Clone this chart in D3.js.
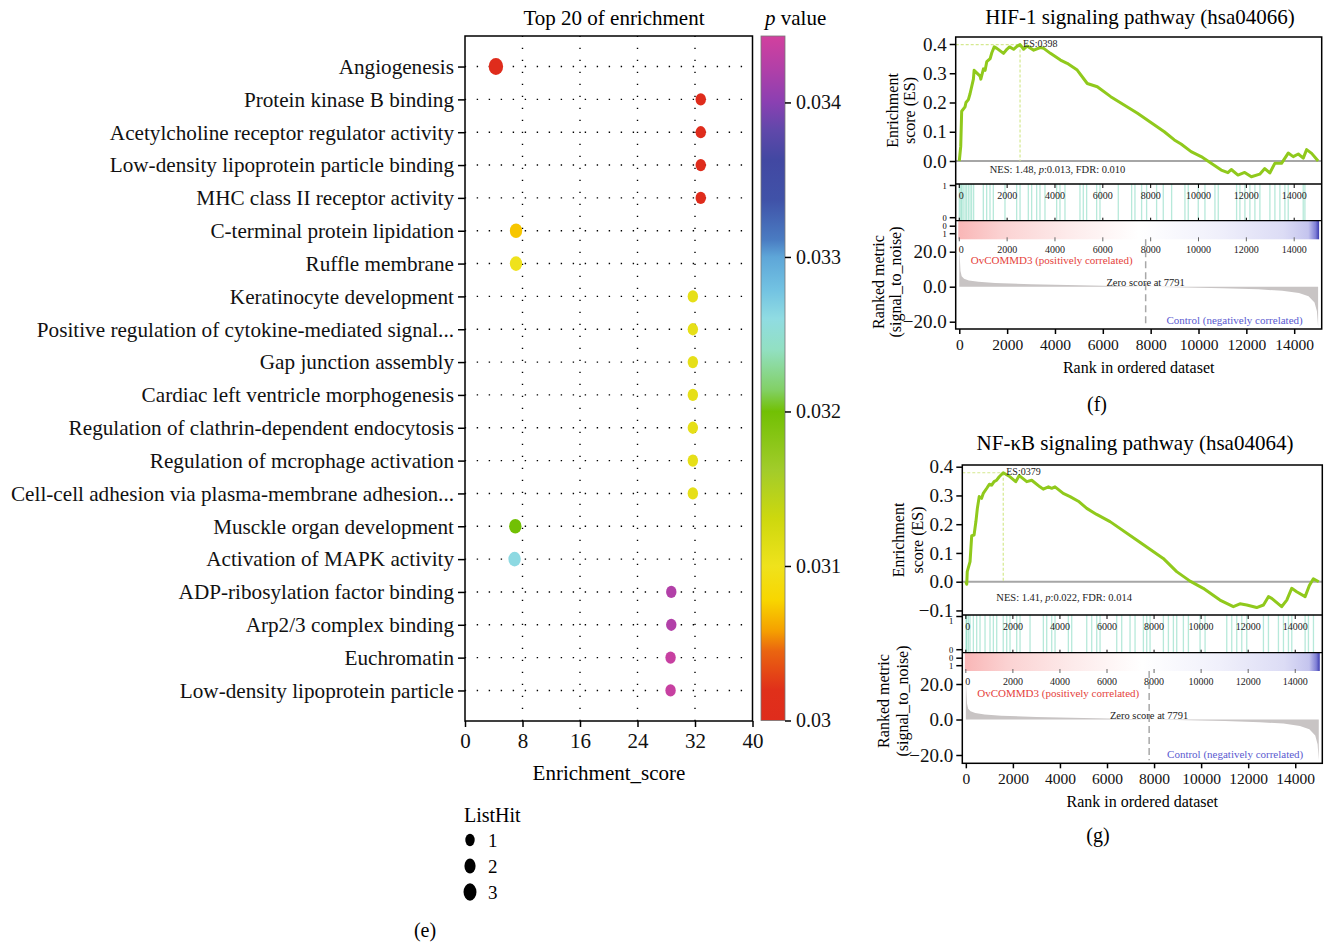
<!DOCTYPE html>
<html lang="en">
<head>
<meta charset="UTF-8" />
<title>Top 20 enrichment and GSEA</title>
<script src="https://d3js.org/d3.v7.min.js"></script>
<style>
  body { margin: 0; background: #fff; }
  svg { display: block; background: #fff; }
  .frame { fill: none; stroke: #000; stroke-width: 1.5; }
  .grid { stroke: #000; stroke-width: 1.4; stroke-dasharray: 1.4 10.6; stroke-dashoffset: 0.3; }
</style>
</head>
<body>
<svg width="1330" height="943"></svg>
<script>
const FONT = '"Liberation Serif", "Times New Roman", serif';

// ---------- (e) top 20 of enrichment ----------
const terms = [
  "Angiogenesis",
  "Protein kinase B binding",
  "Acetylcholine receptor regulator activity",
  "Low-density lipoprotein particle binding",
  "MHC class II receptor activity",
  "C-terminal protein lipidation",
  "Ruffle membrane",
  "Keratinocyte development",
  "Positive regulation of cytokine-mediated signal...",
  "Gap junction assembly",
  "Cardiac left ventricle morphogenesis",
  "Regulation of clathrin-dependent endocytosis",
  "Regulation of mcrophage activation",
  "Cell-cell adhesion via plasma-membrane adhesion...",
  "Musckle organ development",
  "Activation of MAPK activity",
  "ADP-ribosylation factor binding",
  "Arp2/3 complex binding",
  "Euchromatin",
  "Low-density lipoprotein particle"
];
const enrichScore = [4.3, 32.8, 32.8, 32.8, 32.8, 7.1, 7.1, 31.7, 31.7, 31.7,
                     31.7, 31.7, 31.7, 31.7, 7.0, 6.9, 28.7, 28.7, 28.6, 28.6];
const pValue = [0.0300, 0.0300, 0.0300, 0.0300, 0.0300, 0.03072, 0.0310, 0.03108, 0.03108, 0.03108,
                0.03108, 0.03108, 0.03108, 0.03108, 0.0320, 0.03262, 0.03422, 0.03422, 0.03436, 0.03436];
const listHit = [3, 1, 1, 1, 1, 2, 2, 1, 1, 1, 1, 1, 1, 1, 2, 2, 1, 1, 1, 1];
const xTicks = [0, 8, 16, 24, 32, 40];
const pTicks = [0.03, 0.031, 0.032, 0.033, 0.034];
const pRange = [0.03, 0.03443];
const pStops = [
  [0.03, "#df2c1c"], [0.0302, "#e0301a"], [0.03045, "#ea6510"], [0.03058, "#f5a000"],
  [0.03078, "#f8d600"], [0.031, "#efe21c"], [0.03131, "#cdd80e"], [0.03162, "#a2cc2a"],
  [0.032, "#72c004"], [0.03214, "#82d066"], [0.0324, "#92e0c2"], [0.0326, "#90dce2"],
  [0.03279, "#72c2e2"], [0.033, "#5ea6d8"], [0.03311, "#4a7cc2"], [0.03337, "#4052a8"],
  [0.03363, "#4248a2"], [0.03382, "#6048aa"], [0.034, "#8a40b2"], [0.03421, "#b040a8"],
  [0.03443, "#d2409e"]
];
const legendHits = [1, 2, 3];

// ---------- (f)/(g) GSEA ----------
const rankTicks = [0, 2000, 4000, 6000, 8000, 10000, 12000, 14000];
const metricTicks = [-20, 0, 20];
const nGenes = 15000;
const zeroCross = 7791;
const rankedMetric = [
  [0, 21], [20, 17], [50, 9], [100, 6], [200, 4.6], [400, 3.6], [800, 2.8], [1500, 2.1],
  [3000, 1.4], [5000, 0.8], [6500, 0.4], [7791, 0], [9000, -0.3], [11000, -0.9],
  [12500, -1.5], [13500, -2.3], [14200, -3.6], [14600, -5.5], [14850, -9], [14950, -14], [15000, -23]
];
const rankGradient = [
  [0, "#f9b6b6"], [0.12, "#fbd2d2"], [0.3, "#fdeaea"], [0.5, "#ffffff"], [0.72, "#f0f0fb"],
  [0.9, "#dcdcf5"], [0.97, "#c4c4ee"], [0.99, "#8080d6"], [1, "#3c3cb0"]
];

const hifCurve = [
  [0, 0], [60, 0.05], [100, 0.17], [240, 0.185], [280, 0.2], [380, 0.21], [450, 0.23], [590, 0.28],
  [620, 0.31], [870, 0.29], [900, 0.28], [1010, 0.315], [1080, 0.31], [1150, 0.34], [1290, 0.35],
  [1360, 0.37], [1460, 0.39], [1570, 0.385], [1850, 0.368], [1990, 0.382], [2100, 0.39],
  [2270, 0.382], [2410, 0.392], [2540, 0.398], [2690, 0.382], [2830, 0.393], [3110, 0.379],
  [3390, 0.388], [3530, 0.385], [3810, 0.368], [4230, 0.345], [4510, 0.334], [4930, 0.311],
  [5350, 0.265], [5770, 0.254], [6330, 0.22], [7450, 0.163], [8570, 0.1], [8990, 0.072],
  [9270, 0.058], [9690, 0.032], [10110, 0.015], [10390, 0.0], [10950, -0.031], [11230, -0.04],
  [11370, -0.029], [11650, -0.048], [11930, -0.039], [12210, -0.054], [12560, -0.045],
  [12770, -0.026], [12980, -0.041], [13190, -0.008], [13470, -0.008], [13750, 0.027],
  [13960, 0.015], [14170, 0.024], [14380, 0.01], [14520, 0.039], [14730, 0.026], [15000, 0]
];
const hifHits = [
  2, 60, 100, 160, 239, 300, 378, 450, 517, 600, 1005, 1144, 1284, 1423, 1910, 2398, 2540,
  2886, 3025, 3234, 3373, 3582, 4070, 4209, 4418, 5045, 5184, 5323, 5741, 5881, 6647, 7204,
  7343, 7622, 7831, 8249, 8527, 8876, 9433, 9572, 9990, 10269, 10687, 10826, 11592, 11731,
  11940, 12149, 12358, 12567, 12985, 13194, 13403, 13612, 13751, 14378, 14448
];
const hifPeak = [2540, 0.398];

const nfkbCurve = [
  [0, 0], [40, -0.009], [60, 0.035], [180, 0.07], [250, 0.16], [350, 0.162], [430, 0.21],
  [490, 0.255], [570, 0.296], [670, 0.29], [740, 0.307], [890, 0.325], [1000, 0.339],
  [1100, 0.336], [1200, 0.348], [1310, 0.353], [1420, 0.365], [1590, 0.379], [1880, 0.365],
  [2120, 0.348], [2270, 0.369], [2590, 0.348], [2800, 0.353], [3150, 0.33], [3290, 0.322],
  [3510, 0.33], [3650, 0.325], [3790, 0.33], [4140, 0.307], [4430, 0.296], [4780, 0.28],
  [5140, 0.255], [5560, 0.234], [6130, 0.209], [7260, 0.145], [8390, 0.081], [8960, 0.035],
  [9530, 0.002], [10090, -0.023], [10800, -0.064], [11370, -0.087], [11650, -0.077],
  [11940, -0.081], [12360, -0.09], [12650, -0.081], [12860, -0.052], [13000, -0.058],
  [13420, -0.087], [13640, -0.064], [13850, -0.023], [14060, -0.035], [14420, -0.052],
  [14600, -0.013], [14770, 0.01], [15000, 0]
];
const nfkbHits = [
  10, 36, 107, 178, 320, 461, 603, 816, 1028, 1170, 1312, 1590, 1737, 1878, 2162, 2304, 2729,
  3295, 3437, 3650, 3791, 4358, 4500, 5138, 5350, 5563, 5704, 6413, 6625, 6979, 7192, 7546,
  7688, 7829, 8396, 8609, 8821, 8963, 9246, 9459, 9955, 10168, 11089, 11301, 11514, 11727,
  11939, 12648, 12861, 13286, 13499, 13711, 13853, 14420, 14561, 14774
];
const nfkbPeak = [1590, 0.379];

const svg = d3.select("svg").attr("font-family", FONT);
const defs = svg.append("defs");

// ================= panel (e) =================
const x = d3.scaleLinear().domain([0, 40]).range([465, 752.5]);
const y = d3.scalePoint().domain(terms).range([36, 721]).padding(0.93);
const pColor = d3.scaleLinear().domain(pStops.map(d => d[0])).range(pStops.map(d => d[1])).clamp(true);
const rx = d3.scaleLinear().domain([1, 3]).range([5.2, 7.2]);

const gE = svg.append("g");

gE.selectAll(".hgrid").data(terms).enter().append("line")
  .attr("class", "grid")
  .attr("x1", x(0)).attr("x2", x(40))
  .attr("y1", d => y(d)).attr("y2", d => y(d));
gE.selectAll(".vgrid").data(xTicks.slice(1, -1)).enter().append("line")
  .attr("class", "grid")
  .attr("x1", d => x(d)).attr("x2", d => x(d))
  .attr("y1", 36).attr("y2", 721);

gE.selectAll(".dot").data(terms).enter().append("ellipse")
  .attr("cx", (d, i) => x(enrichScore[i]))
  .attr("cy", d => y(d))
  .attr("rx", (d, i) => rx(listHit[i]))
  .attr("ry", (d, i) => rx(listHit[i]) * 1.18)
  .attr("fill", (d, i) => pColor(pValue[i]));

gE.append("rect").attr("class", "frame")
  .attr("x", x(0)).attr("y", 36)
  .attr("width", x(40) - x(0)).attr("height", 721 - 36);

function styleAxis(g, size) {
  g.attr("font-family", FONT).attr("font-size", size);
  g.select(".domain").remove();
  g.selectAll(".tick line").attr("stroke-width", 1.5);
  g.selectAll(".tick text").attr("fill", "#111");
}

gE.append("g").attr("transform", "translate(0,721)")
  .call(d3.axisBottom(x).tickValues(xTicks).tickSize(6).tickPadding(6))
  .call(g => styleAxis(g, 21));
gE.append("g").attr("transform", `translate(${x(0)},0)`)
  .call(d3.axisLeft(y).tickSize(7).tickPadding(4))
  .call(g => styleAxis(g, 21.2));

gE.append("text").attr("x", 614).attr("y", 25).attr("text-anchor", "middle")
  .attr("font-size", 21).text("Top 20 of enrichment");
gE.append("text").attr("x", 609).attr("y", 780).attr("text-anchor", "middle")
  .attr("font-size", 21).text("Enrichment_score");

// colour bar
const cbY = d3.scaleLinear().domain(pRange).range([720.5, 36]);
const grad = defs.append("linearGradient").attr("id", "pgrad")
  .attr("x1", 0).attr("y1", 1).attr("x2", 0).attr("y2", 0);
grad.selectAll("stop").data(pStops).enter().append("stop")
  .attr("offset", d => (d[0] - pRange[0]) / (pRange[1] - pRange[0]))
  .attr("stop-color", d => d[1]);
gE.append("rect").attr("x", 761).attr("y", cbY(pRange[1]))
  .attr("width", 24).attr("height", cbY(pRange[0]) - cbY(pRange[1]))
  .attr("fill", "url(#pgrad)").attr("stroke", "#777").attr("stroke-width", 0.8);
gE.append("g").attr("transform", "translate(785,0)")
  .call(d3.axisRight(cbY).tickValues(pTicks).tickSize(6).tickPadding(5).tickFormat(d => String(+d.toFixed(3))))
  .call(g => styleAxis(g, 20));
const pv = gE.append("text").attr("x", 765).attr("y", 25).attr("font-size", 21);
pv.append("tspan").attr("font-style", "italic").text("p");
pv.append("tspan").text(" value");

// size legend
gE.append("text").attr("x", 464).attr("y", 822).attr("font-size", 20).text("ListHit");
const lg = gE.selectAll(".lg").data(legendHits).enter().append("g")
  .attr("transform", (d, i) => `translate(470,${840 + i * 26})`);
lg.append("ellipse").attr("rx", d => rx(d) * 0.9).attr("ry", d => rx(d) * 1.2).attr("fill", "#000");
lg.append("text").attr("x", 18).attr("y", 7).attr("font-size", 19).text(d => d);

svg.append("text").attr("x", 425).attr("y", 937).attr("text-anchor", "middle")
  .attr("font-size", 20).text("(e)");

// ================= GSEA panels =================
function drawGsea(cfg) {
  const g = svg.append("g");
  const xr = d3.scaleLinear().domain([-150, 15150]).range([cfg.left, cfg.right]);
  const yEs = d3.scaleLinear().domain([0, 0.4]).range([cfg.es0, cfg.es04]);
  const yMet = d3.scaleLinear().domain([-20, 20]).range([cfg.metM20, cfg.met20]);

  g.append("text").attr("x", cfg.titleX).attr("y", cfg.titleY).attr("text-anchor", "middle")
    .attr("font-size", 21).text(cfg.title);

  // hits
  g.selectAll(".hit").data(cfg.hits).enter().append("line")
    .attr("x1", d => xr(d)).attr("x2", d => xr(d))
    .attr("y1", cfg.hitTop).attr("y2", cfg.gradTop)
    .attr("stroke", "#6fd3b6").attr("stroke-opacity", 0.5).attr("stroke-width", 1.3);

  // colour ramp of ranked list
  const gid = "rg" + cfg.id;
  const lgR = defs.append("linearGradient").attr("id", gid);
  lgR.selectAll("stop").data(rankGradient).enter().append("stop")
    .attr("offset", d => d[0]).attr("stop-color", d => d[1]);
  g.append("rect").attr("x", xr(0) - 1).attr("y", cfg.gradTop)
    .attr("width", xr(nGenes) - xr(0) + 2).attr("height", cfg.gradBottom - cfg.gradTop)
    .attr("fill", `url(#${gid})`);

  // ranked metric
  const area = d3.area().x(d => xr(d[0])).y0(yMet(0)).y1(d => yMet(d[1]));
  g.append("path").datum(rankedMetric).attr("d", area).attr("fill", "#c8c4c4");
  g.append("line").attr("x1", xr(zeroCross)).attr("x2", xr(zeroCross))
    .attr("y1", cfg.gradBottom).attr("y2", cfg.bottom - 3)
    .attr("stroke", "#a8a8a8").attr("stroke-width", 1.5).attr("stroke-dasharray", "7 4");

  // ES
  g.append("line").attr("x1", cfg.left).attr("x2", cfg.right)
    .attr("y1", yEs(0)).attr("y2", yEs(0)).attr("stroke", "#a6a6a6").attr("stroke-width", 2);
  g.append("line").attr("x1", cfg.left).attr("x2", xr(cfg.peak[0]))
    .attr("y1", yEs(cfg.peak[1])).attr("y2", yEs(cfg.peak[1]))
    .attr("stroke", "#d5e98f").attr("stroke-width", 1.2).attr("stroke-dasharray", "3 2");
  g.append("line").attr("x1", xr(cfg.peak[0])).attr("x2", xr(cfg.peak[0]))
    .attr("y1", yEs(cfg.peak[1])).attr("y2", yEs(0))
    .attr("stroke", "#d5e98f").attr("stroke-width", 1.2).attr("stroke-dasharray", "3 2");
  g.append("path").datum(cfg.curve)
    .attr("d", d3.line().x(d => xr(d[0])).y(d => yEs(d[1])))
    .attr("fill", "none").attr("stroke", "#90c91c").attr("stroke-width", 3)
    .attr("stroke-linejoin", "round");

  g.append("text").attr("x", xr(cfg.peak[0]) + 3).attr("y", yEs(cfg.peak[1]) + 2.5)
    .attr("font-size", 10).attr("fill", "#222").text(cfg.esLabel);
  const nes = g.append("text").attr("x", cfg.left + 34).attr("y", cfg.nesY)
    .attr("font-size", 10.5).attr("fill", "#222");
  nes.append("tspan").text(`NES: ${cfg.nes}, `);
  nes.append("tspan").attr("font-style", "italic").text("p");
  nes.append("tspan").text(`:${cfg.p}, FDR: ${cfg.fdr}`);

  g.append("text").attr("x", cfg.left + 15).attr("y", yMet(20) + 12.5)
    .attr("font-size", 11).attr("fill", "#e5423c").text("OvCOMMD3 (positively correlated)");
  g.append("text").attr("x", xr(zeroCross)).attr("y", yMet(0) - 0.5).attr("text-anchor", "middle")
    .attr("font-size", 10.5).attr("fill", "#222").text(`Zero score at ${zeroCross}`);
  g.append("text").attr("x", cfg.right - 19).attr("y", yMet(-20) + 2.5).attr("text-anchor", "end")
    .attr("font-size", 11).attr("fill", "#5a5ad0").text("Control (negatively correlated)");

  // frame and separators
  g.append("rect").attr("class", "frame").attr("x", cfg.left).attr("y", cfg.esTop)
    .attr("width", cfg.right - cfg.left).attr("height", cfg.bottom - cfg.esTop);
  [cfg.hitTop, cfg.gradTop].forEach(v => g.append("line")
    .attr("x1", cfg.left).attr("x2", cfg.right).attr("y1", v).attr("y2", v)
    .attr("stroke", "#000").attr("stroke-width", 1.3));

  // inner rank ticks (hits panel and ramp)
  const inner = g.append("g").attr("font-size", 10).attr("fill", "#222");
  rankTicks.forEach(t => {
    inner.append("line").attr("x1", xr(t)).attr("x2", xr(t))
      .attr("y1", cfg.hitTop).attr("y2", cfg.hitTop + 4).attr("stroke", "#000");
    inner.append("line").attr("x1", xr(t)).attr("x2", xr(t))
      .attr("y1", cfg.gradTop - 3).attr("y2", cfg.gradTop).attr("stroke", "#000");
    inner.append("line").attr("x1", xr(t)).attr("x2", xr(t))
      .attr("y1", cfg.gradBottom - 2).attr("y2", cfg.gradBottom + 2).attr("stroke", "#666");
    inner.append("text").attr("x", t === 0 ? xr(t) + 2 : xr(t)).attr("y", cfg.hitTop + 14.5)
      .attr("text-anchor", "middle").text(t);
    inner.append("text").attr("x", t === 0 ? xr(t) + 2 : xr(t)).attr("y", cfg.gradBottom + 14)
      .attr("text-anchor", "middle").text(t);
  });

  // left axes
  g.append("g").attr("transform", `translate(${cfg.left},0)`)
    .call(d3.axisLeft(yEs).tickValues(cfg.esTicks).tickSize(6).tickPadding(3).tickFormat(d3.format(".1f")))
    .call(a => styleAxis(a, 19));
  g.append("g").attr("transform", `translate(${cfg.left},0)`)
    .call(d3.axisLeft(yMet).tickValues(metricTicks).tickSize(6).tickPadding(3).tickFormat(d3.format(".1f")))
    .call(a => styleAxis(a, 19));
  const small = [[cfg.hitTop + 1.5, "1", cfg.oneShift], [cfg.gradTop - 3, "0", 0],
                 [cfg.gradTop + 5.5, "0", 0], [cfg.gradTop + 13, "1", 0]];
  small.forEach(([yy, t, sh]) => {
    g.append("line").attr("x1", cfg.left - 6).attr("x2", cfg.left).attr("y1", yy).attr("y2", yy)
      .attr("stroke", "#000").attr("stroke-width", 1.5);
    g.append("text").attr("x", cfg.left - 9).attr("y", yy + 3 + sh).attr("text-anchor", "end")
      .attr("font-size", 8.5).text(t);
  });

  // bottom axis
  g.append("g").attr("transform", `translate(0,${cfg.bottom})`)
    .call(d3.axisBottom(xr).tickValues(rankTicks).tickSize(5).tickPadding(5).tickFormat(d3.format("d")))
    .call(a => styleAxis(a, 15.5));
  g.append("text").attr("x", (cfg.left + cfg.right) / 2).attr("y", cfg.bottom + 44)
    .attr("text-anchor", "middle").attr("font-size", 16).text("Rank in ordered dataset");

  // axis titles
  const esMid = (cfg.esTop + cfg.hitTop) / 2;
  [["Enrichment", cfg.esTitleX[0]], ["score (ES)", cfg.esTitleX[1]]].forEach(([t, xx]) =>
    g.append("text").attr("transform", `translate(${xx},${esMid}) rotate(-90)`)
      .attr("text-anchor", "middle").attr("font-size", 16).text(t));
  [["Ranked metric", cfg.metTitleX[0]], ["(signal_to_noise)", cfg.metTitleX[1]]].forEach(([t, xx]) =>
    g.append("text").attr("transform", `translate(${xx},${cfg.metTitleY}) rotate(-90)`)
      .attr("text-anchor", "middle").attr("font-size", 16).text(t));

  svg.append("text").attr("x", cfg.tagX).attr("y", cfg.tagY).attr("text-anchor", "middle")
    .attr("font-size", 20).text(cfg.tag);
}

drawGsea({
  id: "f", title: "HIF-1 signaling pathway (hsa04066)", titleX: 1140, titleY: 24,
  left: 955.7, right: 1321.7, esTop: 37, es0: 161, es04: 44,
  hitTop: 184, gradTop: 220.7, gradBottom: 239.3,
  met20: 251.7, metM20: 321.7, bottom: 329, oneShift: 0,
  esTicks: [0, 0.1, 0.2, 0.3, 0.4], curve: hifCurve, hits: hifHits, peak: hifPeak,
  esLabel: "ES:0398", nes: "1.48", p: "0.013", fdr: "0.010", nesY: 173,
  esTitleX: [898, 915], metTitleX: [884, 901], metTitleY: 282,
  tag: "(f)", tagX: 1097, tagY: 411
});

drawGsea({
  id: "g", title: "NF-\u03baB signaling pathway (hsa04064)", titleX: 1135, titleY: 450,
  left: 962.3, right: 1322.3, esTop: 465, es0: 581.7, es04: 466.7,
  hitTop: 615, gradTop: 652.7, gradBottom: 671,
  met20: 684, metM20: 755, bottom: 763.3, oneShift: 4,
  esTicks: [-0.1, 0, 0.1, 0.2, 0.3, 0.4], curve: nfkbCurve, hits: nfkbHits, peak: nfkbPeak,
  esLabel: "ES:0379", nes: "1.41", p: "0.022", fdr: "0.014", nesY: 601,
  esTitleX: [904, 923], metTitleX: [889, 908], metTitleY: 701,
  tag: "(g)", tagX: 1098, tagY: 842
});
</script>
</body>
</html>
